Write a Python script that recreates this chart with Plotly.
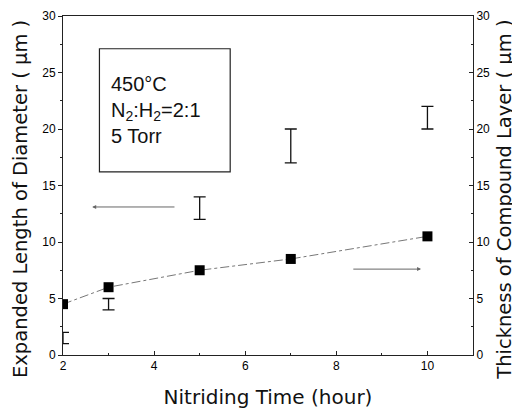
import plotly.graph_objects as go

# Data
time_hours = [2, 3, 5, 7, 10]
expanded_low = [1.0, 4.0, 12.0, 17.0, 20.0]
expanded_high = [2.0, 5.0, 14.0, 20.0, 22.0]
compound_thickness = [4.5, 6.0, 7.5, 8.5, 10.5]

x_ticks = [2, 4, 6, 8, 10]
y_ticks = [0, 5, 10, 15, 20, 25, 30]

exp_mid = [(a + b) / 2 for a, b in zip(expanded_low, expanded_high)]
exp_half = [(b - a) / 2 for a, b in zip(expanded_low, expanded_high)]

FONT = "Liberation Sans, Arial, sans-serif"
TFONT = "DejaVu Sans, Verdana, sans-serif"

fig = go.Figure()

fig.add_trace(go.Scatter(
    x=time_hours, y=exp_mid, mode="markers",
    marker=dict(size=1, color="rgba(0,0,0,0)"),
    error_y=dict(type="data", array=exp_half, visible=True,
                 color="#111", thickness=1.3, width=6),
    showlegend=False, hoverinfo="skip",
))

fig.add_trace(go.Scatter(
    x=time_hours, y=compound_thickness, mode="lines+markers", yaxis="y2",
    line=dict(color="#777", width=1, dash="dashdot"),
    marker=dict(symbol="square", size=10, color="#000"),
    showlegend=False,
))

# Text box
fig.add_shape(type="rect", xref="x", yref="y", x0=2.8, x1=5.67, y0=16.2, y1=27.1,
              line=dict(color="#222", width=1.2), fillcolor="rgba(0,0,0,0)")
fig.add_annotation(xref="x", yref="y", x=3.02, y=21.7, xanchor="left", yanchor="middle",
                   text="450°C<br>N<sub>2</sub>:H<sub>2</sub>=2:1<br>5 Torr",
                   showarrow=False, align="left",
                   font=dict(family=FONT, size=20, color="#111"))

# Arrows
fig.add_annotation(xref="x", yref="y", axref="x", ayref="y",
                   x=2.64, y=13.1, ax=4.48, ay=13.1, text="",
                   showarrow=True, arrowhead=2, arrowsize=0.8, arrowwidth=1, arrowcolor="#666")
fig.add_annotation(xref="x", yref="y", axref="x", ayref="y",
                   x=9.86, y=7.6, ax=8.34, ay=7.6, text="",
                   showarrow=True, arrowhead=2, arrowsize=0.8, arrowwidth=1, arrowcolor="#666")

# Y-axis titles as rotated annotations (placed like the reference, slightly below centre)
fig.add_annotation(xref="paper", yref="paper", x=-0.105, y=0.46,
                   xanchor="center", yanchor="middle", textangle=-90, showarrow=False,
                   text="Expanded Length of Diameter ( μm )",
                   font=dict(family=TFONT, size=19.5, color="#111"))
fig.add_annotation(xref="paper", yref="paper", x=1.078, y=0.458,
                   xanchor="center", yanchor="middle", textangle=-90, showarrow=False,
                   text="Thickness of Compound Layer ( μm )",
                   font=dict(family=TFONT, size=19.5, color="#111"))

axis_common = dict(showgrid=False, zeroline=False, linecolor="#222", linewidth=1,
                   tickfont=dict(family=FONT, size=12, color="#000"),
                   ticklen=4, tickcolor="#222", automargin=False)

# The page body adds an 8px offset, so the figure is sized to fit the window.
fig.update_layout(
    width=512, height=405,
    margin=dict(l=55, r=47, t=8, b=58),
    paper_bgcolor="white", plot_bgcolor="white",
    xaxis=dict(range=[2, 11], tickvals=x_ticks, ticks="inside", mirror=True,
               showline=True,
               minor=dict(ticks="inside", ticklen=2, dtick=1, tickcolor="#222"),
               title=dict(text="Nitriding Time (hour)", standoff=17,
                          font=dict(family=TFONT, size=20, color="#111")),
               **axis_common),
    yaxis=dict(range=[0, 30], tickvals=y_ticks, ticks="outside", showline=True,
               minor=dict(ticks="outside", ticklen=2, dtick=2.5, tickcolor="#222"),
               **axis_common),
    yaxis2=dict(range=[0, 30], tickvals=y_ticks, ticks="inside", overlaying="y",
                side="right", showline=True,
                minor=dict(ticks="inside", ticklen=2, dtick=2.5, tickcolor="#222"),
                **axis_common),
)

fig.write_html("out.html")
